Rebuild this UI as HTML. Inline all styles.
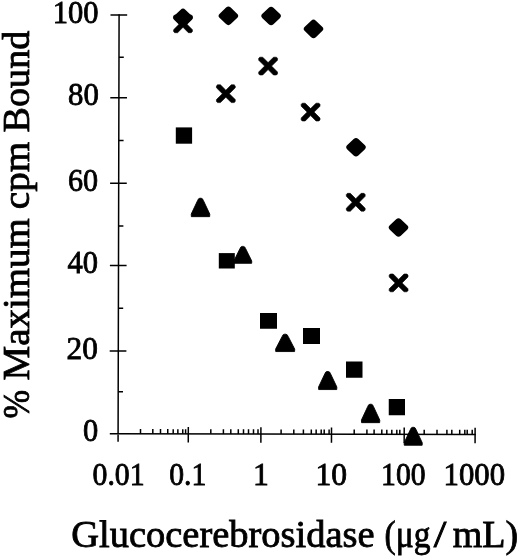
<!DOCTYPE html>
<html><head><meta charset="utf-8"><style>
html,body{margin:0;padding:0;background:#fff;}
body{width:520px;height:560px;overflow:hidden;}
svg{display:block;}
.t{font-family:"Liberation Serif",serif;font-size:30.5px;fill:#000;stroke:#000;stroke-width:0.8px;}
.tt{font-family:"Liberation Serif",serif;font-size:37px;fill:#000;stroke:#000;stroke-width:0.8px;}
svg{will-change:transform;}
</style></head><body>
<svg width="520" height="560" viewBox="0 0 520 560">
<g transform="rotate(0.135 118.1 433.65)">
<path d="M118.1,14.25 V441.7 M109.8,433.65 H475.85" stroke="#000" stroke-width="1.5" fill="none"/>
<path d="M109.5,15.0 H126.2 M109.5,97.7 H126.2 M109.5,183.2 H126.2 M109.5,265.5 H126.2 M109.5,351.0 H126.2 M118.1,57.3 H122.9 M118.1,140.4 H122.9 M118.1,226.0 H122.9 M118.1,308.3 H122.9 M118.1,391.7 H122.9 M188.3,426.9 V442.3 M260.9,426.9 V442.3 M331.5,426.9 V442.3 M404.2,426.9 V442.3 M475.1,426.9 V442.3 M140.5,429.0 V433.65 M152.8,429.0 V433.65 M160.5,429.0 V433.65 M167.75,429.0 V433.65 M173.2,429.0 V433.65 M177.85,429.0 V433.65 M182.75,429.0 V433.65 M185.6,429.0 V433.65 M210.8,429.0 V433.65 M223.4,429.0 V433.65 M230.8,429.0 V433.65 M238.3,429.0 V433.65 M243.5,429.0 V433.65 M248.5,429.0 V433.65 M253.5,429.0 V433.65 M258.0,429.0 V433.65 M281.1,429.0 V433.65 M293.8,429.0 V433.65 M303.4,429.0 V433.65 M311.3,429.0 V433.65 M316.15,429.0 V433.65 M321.2,429.0 V433.65 M324.2,429.0 V433.65 M329.1,429.0 V433.65 M354.2,429.0 V433.65 M366.9,429.0 V433.65 M374.1,429.0 V433.65 M381.8,429.0 V433.65 M386.8,429.0 V433.65 M391.8,429.0 V433.65 M396.8,429.0 V433.65 M399.8,429.0 V433.65 M424.2,429.0 V433.65 M437.0,429.0 V433.65 M446.9,429.0 V433.65 M451.8,429.0 V433.65 M459.7,429.0 V433.65 M464.8,429.0 V433.65 M467.2,429.0 V433.65 M472.2,429.0 V433.65" stroke="#000" stroke-width="1.5" fill="none"/>
</g>
<text x="52.8" y="22.6" class="t" textLength="45.8" lengthAdjust="spacingAndGlyphs">100</text>
<text x="68.0" y="105.2" class="t" textLength="30.8" lengthAdjust="spacingAndGlyphs">80</text>
<text x="68.0" y="191.0" class="t" textLength="30.1" lengthAdjust="spacingAndGlyphs">60</text>
<text x="67.6" y="273.4" class="t" textLength="30.5" lengthAdjust="spacingAndGlyphs">40</text>
<text x="66.6" y="358.7" class="t" textLength="31.3" lengthAdjust="spacingAndGlyphs">20</text>
<text x="83.0" y="441.3" class="t" textLength="15.2" lengthAdjust="spacingAndGlyphs">0</text>
<text x="92.5" y="484.8" class="t" textLength="52.1" lengthAdjust="spacingAndGlyphs">0.01</text>
<text x="169.2" y="484.8" class="t" textLength="37.1" lengthAdjust="spacingAndGlyphs">0.1</text>
<text x="253.1" y="484.8" class="t" textLength="15.8" lengthAdjust="spacingAndGlyphs">1</text>
<text x="315.4" y="484.8" class="t" textLength="31.6" lengthAdjust="spacingAndGlyphs">10</text>
<text x="381.1" y="484.8" class="t" textLength="44.5" lengthAdjust="spacingAndGlyphs">100</text>
<text x="443.6" y="484.8" class="t" textLength="61.5" lengthAdjust="spacingAndGlyphs">1000</text>
<text x="71.3" y="547" class="tt" textLength="303.2" lengthAdjust="spacingAndGlyphs">Glucocerebrosidase</text>
<text x="384.5" y="547" class="tt" textLength="45.9" lengthAdjust="spacingAndGlyphs">(&#956;g</text>
<text x="433.8" y="547" class="tt" textLength="12.6" lengthAdjust="spacingAndGlyphs">/</text>
<text x="452.7" y="547" class="tt" textLength="65.5" lengthAdjust="spacingAndGlyphs">mL)</text>
<text transform="translate(28.8,418.5) rotate(-90)" class="tt" textLength="28.6" lengthAdjust="spacingAndGlyphs">%</text>
<text transform="translate(28.8,380.4) rotate(-90)" class="tt" textLength="162.2" lengthAdjust="spacingAndGlyphs">Maximum</text>
<text transform="translate(28.8,209.2) rotate(-90)" class="tt" textLength="67.3" lengthAdjust="spacingAndGlyphs">cpm</text>
<text transform="translate(28.8,132.4) rotate(-90)" class="tt" textLength="101.7" lengthAdjust="spacingAndGlyphs">Bound</text>
<rect x="175.80" y="127.40" width="16.30" height="16.30" fill="#000"/>
<rect x="218.80" y="253.10" width="16.00" height="15.40" fill="#000"/>
<rect x="260.00" y="313.00" width="17.00" height="15.75" fill="#000"/>
<rect x="303.00" y="328.00" width="17.00" height="16.00" fill="#000"/>
<rect x="346.00" y="361.50" width="16.50" height="16.25" fill="#000"/>
<rect x="388.75" y="399.00" width="16.25" height="16.25" fill="#000"/>
<path d="M-9.2,18.6 L-9.3,16 L-2.9,2.4 Q-2.1,0.1 -0.7,0.1 L0.7,0.1 Q2.1,0.1 2.9,2.4 L9.3,16 L9.2,18.6 Z" transform="translate(200.50,197.80) scale(0.995,0.995) translate(0,0.35)" fill="#000" stroke="#000" stroke-width="0.9" stroke-linejoin="round"/>
<path d="M-9.2,18.6 L-9.3,16 L-2.9,2.4 Q-2.1,0.1 -0.7,0.1 L0.7,0.1 Q2.1,0.1 2.9,2.4 L9.3,16 L9.2,18.6 Z" transform="translate(242.80,246.00) scale(0.964,0.916) translate(0,0.35)" fill="#000" stroke="#000" stroke-width="0.9" stroke-linejoin="round"/>
<path d="M-9.2,18.6 L-9.3,16 L-2.9,2.4 Q-2.1,0.1 -0.7,0.1 L0.7,0.1 Q2.1,0.1 2.9,2.4 L9.3,16 L9.2,18.6 Z" transform="translate(285.15,333.80) scale(1.026,0.937) translate(0,0.35)" fill="#000" stroke="#000" stroke-width="0.9" stroke-linejoin="round"/>
<path d="M-9.2,18.6 L-9.3,16 L-2.9,2.4 Q-2.1,0.1 -0.7,0.1 L0.7,0.1 Q2.1,0.1 2.9,2.4 L9.3,16 L9.2,18.6 Z" transform="translate(327.70,371.10) scale(0.984,0.974) translate(0,0.35)" fill="#000" stroke="#000" stroke-width="0.9" stroke-linejoin="round"/>
<path d="M-9.2,18.6 L-9.3,16 L-2.9,2.4 Q-2.1,0.1 -0.7,0.1 L0.7,0.1 Q2.1,0.1 2.9,2.4 L9.3,16 L9.2,18.6 Z" transform="translate(370.60,403.80) scale(0.984,0.995) translate(0,0.35)" fill="#000" stroke="#000" stroke-width="0.9" stroke-linejoin="round"/>
<path d="M-9.2,18.6 L-9.3,16 L-2.9,2.4 Q-2.1,0.1 -0.7,0.1 L0.7,0.1 Q2.1,0.1 2.9,2.4 L9.3,16 L9.2,18.6 Z" transform="translate(413.20,426.90) scale(0.974,0.969) translate(0,0.35)" fill="#000" stroke="#000" stroke-width="0.9" stroke-linejoin="round"/>
<rect x="-7.8" y="-7.8" width="15.6" height="15.6" rx="3.3" transform="translate(183.00,17.90) scale(1,0.95) rotate(45)" fill="#000"/>
<rect x="-7.8" y="-7.8" width="15.6" height="15.6" rx="3.3" transform="translate(228.40,15.85) scale(1,0.95) rotate(45)" fill="#000"/>
<rect x="-7.8" y="-7.8" width="15.6" height="15.6" rx="3.3" transform="translate(271.10,16.00) scale(1,0.95) rotate(45)" fill="#000"/>
<rect x="-7.8" y="-7.8" width="15.6" height="15.6" rx="3.3" transform="translate(313.50,28.90) scale(1,0.95) rotate(45)" fill="#000"/>
<rect x="-7.8" y="-7.8" width="15.6" height="15.6" rx="3.3" transform="translate(356.00,147.25) scale(1,0.95) rotate(45)" fill="#000"/>
<rect x="-7.8" y="-7.8" width="15.6" height="15.6" rx="3.3" transform="translate(398.50,227.50) scale(1,0.95) rotate(45)" fill="#000"/>
<path d="M0.00,-3.50 L5.40,-8.90 L8.30,-8.90 L9.40,-7.80 L9.40,-5.90 L3.50,0.00 L9.40,5.90 L9.40,7.80 L8.30,8.90 L5.40,8.90 L0.00,3.50 L-5.40,8.90 L-8.30,8.90 L-9.40,7.80 L-9.40,5.90 L-3.50,0.00 L-9.40,-5.90 L-9.40,-7.80 L-8.30,-8.90 L-5.40,-8.90 Z" transform="translate(183.00,23.80)" fill="#000" stroke="#000" stroke-width="0.6" stroke-linejoin="round"/>
<path d="M0.00,-3.50 L5.40,-8.90 L8.30,-8.90 L9.40,-7.80 L9.40,-5.90 L3.50,0.00 L9.40,5.90 L9.40,7.80 L8.30,8.90 L5.40,8.90 L0.00,3.50 L-5.40,8.90 L-8.30,8.90 L-9.40,7.80 L-9.40,5.90 L-3.50,0.00 L-9.40,-5.90 L-9.40,-7.80 L-8.30,-8.90 L-5.40,-8.90 Z" transform="translate(225.85,93.70)" fill="#000" stroke="#000" stroke-width="0.6" stroke-linejoin="round"/>
<path d="M0.00,-3.50 L5.40,-8.90 L8.30,-8.90 L9.40,-7.80 L9.40,-5.90 L3.50,0.00 L9.40,5.90 L9.40,7.80 L8.30,8.90 L5.40,8.90 L0.00,3.50 L-5.40,8.90 L-8.30,8.90 L-9.40,7.80 L-9.40,5.90 L-3.50,0.00 L-9.40,-5.90 L-9.40,-7.80 L-8.30,-8.90 L-5.40,-8.90 Z" transform="translate(268.10,66.10)" fill="#000" stroke="#000" stroke-width="0.6" stroke-linejoin="round"/>
<path d="M0.00,-3.50 L5.40,-8.90 L8.30,-8.90 L9.40,-7.80 L9.40,-5.90 L3.50,0.00 L9.40,5.90 L9.40,7.80 L8.30,8.90 L5.40,8.90 L0.00,3.50 L-5.40,8.90 L-8.30,8.90 L-9.40,7.80 L-9.40,5.90 L-3.50,0.00 L-9.40,-5.90 L-9.40,-7.80 L-8.30,-8.90 L-5.40,-8.90 Z" transform="translate(310.60,112.10)" fill="#000" stroke="#000" stroke-width="0.6" stroke-linejoin="round"/>
<path d="M0.00,-3.50 L5.40,-8.90 L8.30,-8.90 L9.40,-7.80 L9.40,-5.90 L3.50,0.00 L9.40,5.90 L9.40,7.80 L8.30,8.90 L5.40,8.90 L0.00,3.50 L-5.40,8.90 L-8.30,8.90 L-9.40,7.80 L-9.40,5.90 L-3.50,0.00 L-9.40,-5.90 L-9.40,-7.80 L-8.30,-8.90 L-5.40,-8.90 Z" transform="translate(355.75,202.25)" fill="#000" stroke="#000" stroke-width="0.6" stroke-linejoin="round"/>
<path d="M0.00,-3.50 L5.40,-8.90 L8.30,-8.90 L9.40,-7.80 L9.40,-5.90 L3.50,0.00 L9.40,5.90 L9.40,7.80 L8.30,8.90 L5.40,8.90 L0.00,3.50 L-5.40,8.90 L-8.30,8.90 L-9.40,7.80 L-9.40,5.90 L-3.50,0.00 L-9.40,-5.90 L-9.40,-7.80 L-8.30,-8.90 L-5.40,-8.90 Z" transform="translate(398.60,282.90)" fill="#000" stroke="#000" stroke-width="0.6" stroke-linejoin="round"/>
</svg>
</body></html>
